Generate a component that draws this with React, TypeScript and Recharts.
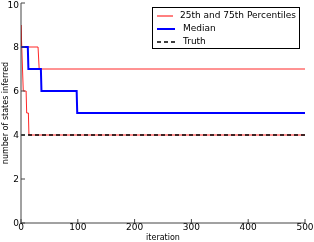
import React from "react";
import { LineChart, Line, XAxis, YAxis } from "recharts";

const lowerIters = [0, 4, 9, 10, 13, 14, 500];
const lowerVals = [9, 6, 6, 5, 5, 4, 4];
const upperIters = [0, 1, 30, 32, 500];
const upperVals = [9, 8, 8, 7, 7];
const medianIters = [0, 12, 13, 35, 36, 98, 99, 500];
const medianVals = [8, 8, 7, 7, 6, 6, 5, 5];
const truthIters = [0, 500];
const truthVals = [4, 4];

const xTicks = [0, 100, 200, 300, 400, 500];
const yTicks = [0, 2, 4, 6, 8, 10];

const toPoints = (xs: number[], ys: number[]) => xs.map((x, i) => ({ x, y: ys[i] }));

const FONT = "DejaVu Sans";

const legendItems = [
  { label: "25th and 75th Percentiles", color: "#ff0000", width: 1, dash: "" },
  { label: "Median", color: "#0000ff", width: 2, dash: "" },
  { label: "Truth", color: "#000000", width: 1.5, dash: "4 3" },
];

const LegendBox = () => (
  <div
    style={{
      position: "absolute",
      left: 152,
      top: 7,
      width: 148,
      boxSizing: "border-box",
      border: "1px solid #000",
      background: "#fff",
      padding: "1px 3px 0px 3px",
      fontFamily: FONT,
      fontSize: 9,
      lineHeight: "13px",
    }}
  >
    {legendItems.map((it) => (
      <div key={it.label} style={{ display: "flex", alignItems: "center" }}>
        <svg width={20} height={8} style={{ marginRight: 7 }}>
          <line x1={1} y1={4} x2={19} y2={4} stroke={it.color} strokeWidth={it.width} strokeDasharray={it.dash} />
        </svg>
        <span style={{ whiteSpace: "nowrap" }}>{it.label}</span>
      </div>
    ))}
  </div>
);

export default function App() {
  const axisTick = { fontSize: 9, fontFamily: FONT, fill: "#000" };
  return (
    <div style={{ position: "fixed", left: 0, top: 0, width: 314, height: 242 }}>
      <LineChart width={314} height={242} margin={{ top: 3, right: 9, left: 0, bottom: 0 }}>
        <XAxis
          xAxisId="b"
          type="number"
          dataKey="x"
          domain={[0, 500]}
          ticks={xTicks}
          tickSize={-4}
          tickMargin={5}
          height={19}
          stroke="#444"
          tick={axisTick}
          label={{ value: "iteration", position: "insideBottom", offset: 2, fontSize: 8, fontFamily: FONT, fill: "#000" }}
          allowDataOverflow
        />
        <XAxis
          xAxisId="t"
          orientation="top"
          type="number"
          dataKey="x"
          domain={[0, 500]}
          ticks={xTicks}
          tickSize={-4}
          height={0}
          stroke="#444"
          tick={false}
        />
        <YAxis
          yAxisId="l"
          type="number"
          domain={[0, 10]}
          ticks={yTicks}
          tickSize={-4}
          tickMargin={6}
          width={21}
          stroke="#444"
          tick={axisTick}
          label={{ value: "number of states inferred", angle: -90, position: "center", dx: -5, fontSize: 8, fontFamily: FONT, fill: "#000" }}
        />
        <YAxis
          yAxisId="r"
          orientation="right"
          type="number"
          domain={[0, 10]}
          ticks={yTicks}
          tickSize={-4}
          width={0}
          stroke="#444"
          tick={false}
        />
        <Line
          xAxisId="b"
          yAxisId="l"
          data={toPoints(lowerIters, lowerVals)}
          dataKey="y"
          type="linear"
          stroke="#ff0000"
          strokeOpacity={0.85}
          strokeWidth={1}
          dot={false}
          isAnimationActive={false}
        />
        <Line
          xAxisId="b"
          yAxisId="l"
          data={toPoints(upperIters, upperVals)}
          dataKey="y"
          type="linear"
          stroke="#ff0000"
          strokeOpacity={0.85}
          strokeWidth={1}
          dot={false}
          isAnimationActive={false}
        />
        <Line
          xAxisId="b"
          yAxisId="l"
          data={toPoints(medianIters, medianVals)}
          dataKey="y"
          type="linear"
          stroke="#0000ff"
          strokeWidth={2}
          dot={false}
          isAnimationActive={false}
        />
        <Line
          xAxisId="b"
          yAxisId="l"
          data={toPoints(truthIters, truthVals)}
          dataKey="y"
          type="linear"
          stroke="#000000"
          strokeWidth={1.5}
          strokeDasharray="4 3"
          dot={false}
          isAnimationActive={false}
        />
      </LineChart>
      <LegendBox />
    </div>
  );
}
